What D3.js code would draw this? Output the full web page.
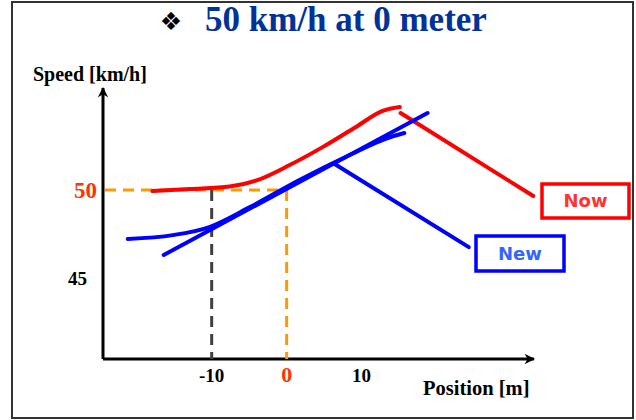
<!DOCTYPE html>
<html>
<head>
<meta charset="utf-8">
<script src="https://cdn.jsdelivr.net/npm/d3@7"></script>
<style>
  body { margin: 0; background: #fff; }
</style>
</head>
<body>
<div id="vis-container"></div>
<script>
// Data (position in m, speed in km/h)
const nowCurve = [[-17.9, 49.94], [-12.9, 50.06], [-7.6, 50.2], [-4.0, 50.55], [0.4, 51.42],
  [4.8, 52.44], [9.3, 53.6], [12.8, 54.5], [15.1, 54.72]];
const nowDrop = [[15.2, 54.38], [32.9, 49.66]];
const newCurve = [[-21.2, 47.22], [-15.2, 47.44], [-10.3, 47.90], [-4.9, 49.03], [1.7, 50.57],
  [8.4, 51.99], [13.1, 52.90], [15.7, 53.24]];
const newLine = [[-16.4, 46.31], [18.8, 54.38]];
const newDrop = [[6.4, 51.48], [24.3, 46.76]];
const xTicks = [-10, 0, 10];
const yTicks = [45, 50];
const refPos = 0, refSpeed = 50, markPos = -10;

const width = 636;
const height = 420;

const svg = d3.select("#vis-container")
  .append("svg")
  .attr("width", width)
  .attr("height", height)
  .attr("viewBox", [0, 0, width, height]);

// outer frame
svg.append("rect")
  .attr("x", 12).attr("y", 2)
  .attr("width", 621).attr("height", 416)
  .attr("fill", "none")
  .attr("stroke", "#333")
  .attr("stroke-width", 2);

// scales
const xScale = d3.scaleLinear().domain([-24.5, 33]).range([103, 534]);
const yScale = d3.scaleLinear().domain([40.4, 55.8]).range([359, 88]);
const x0 = xScale.domain()[0], y0 = yScale.domain()[0];

// arrow marker
svg.append("defs").append("marker")
  .attr("id", "arrow")
  .attr("viewBox", "0 0 10 10")
  .attr("refX", 9).attr("refY", 5)
  .attr("markerWidth", 4.5).attr("markerHeight", 3.5)
  .attr("markerUnits", "strokeWidth")
  .attr("orient", "auto")
  .append("path")
  .attr("d", "M0,0 L10,5 L0,10 L3,5 Z")
  .attr("fill", "black");

// title
svg.append("text")
  .attr("x", 171).attr("y", 30)
  .attr("text-anchor", "middle")
  .attr("font-family", "DejaVu Sans")
  .attr("font-size", 25)
  .attr("fill", "black")
  .text("\u2756");
svg.append("text")
  .attr("x", 205).attr("y", 31)
  .attr("font-family", "Liberation Serif, serif")
  .attr("font-weight", "bold")
  .attr("font-size", 35)
  .attr("fill", "#003399")
  .text("50 km/h at 0 meter");

// axes
svg.append("line")
  .attr("x1", xScale(x0)).attr("y1", yScale(y0))
  .attr("x2", xScale(x0)).attr("y2", yScale(yScale.domain()[1]))
  .attr("stroke", "black").attr("stroke-width", 3)
  .attr("marker-end", "url(#arrow)");
svg.append("line")
  .attr("x1", xScale(x0)).attr("y1", yScale(y0))
  .attr("x2", xScale(xScale.domain()[1])).attr("y2", yScale(y0))
  .attr("stroke", "black").attr("stroke-width", 3)
  .attr("marker-end", "url(#arrow)");

svg.append("text")
  .attr("x", 33).attr("y", 81)
  .attr("font-family", "Liberation Serif, serif")
  .attr("font-weight", "bold")
  .attr("font-size", 20)
  .text("Speed [km/h]");
svg.append("text")
  .attr("x", 423).attr("y", 395)
  .attr("font-family", "Liberation Serif, serif")
  .attr("font-weight", "bold")
  .attr("font-size", 20.5)
  .text("Position [m]");

// tick labels
svg.selectAll(".xtick")
  .data(xTicks)
  .enter()
  .append("text")
  .attr("class", "xtick")
  .attr("x", (d) => xScale(d))
  .attr("y", 382)
  .attr("text-anchor", "middle")
  .attr("font-family", "Liberation Serif, serif")
  .attr("font-weight", "bold")
  .attr("font-size", d => d === refPos ? 22 : 19)
  .attr("fill", d => d === refPos ? "#ff3300" : "black")
  .text(d => d);

svg.selectAll(".ytick")
  .data(yTicks)
  .enter()
  .append("text")
  .attr("class", "ytick")
  .attr("x", d => d === refSpeed ? 97 : 87)
  .attr("y", (d) => yScale(d))
  .attr("dy", "0.35em")
  .attr("text-anchor", "end")
  .attr("font-family", "Liberation Serif, serif")
  .attr("font-weight", "bold")
  .attr("font-size", d => d === refSpeed ? 23 : 19)
  .attr("fill", d => d === refSpeed ? "#ff3300" : "black")
  .text(d => d);

// dashed guides
svg.append("line")
  .attr("x1", xScale(markPos)).attr("y1", yScale(refSpeed))
  .attr("x2", xScale(markPos)).attr("y2", yScale(y0))
  .attr("stroke", "#404040").attr("stroke-width", 3)
  .attr("stroke-dasharray", "11,7");
svg.append("line")
  .attr("x1", xScale(x0) + 2).attr("y1", yScale(refSpeed))
  .attr("x2", xScale(refPos)).attr("y2", yScale(refSpeed))
  .attr("stroke", "#ff9900").attr("stroke-width", 3)
  .attr("stroke-dasharray", "11,7");
svg.append("line")
  .attr("x1", xScale(refPos)).attr("y1", yScale(refSpeed))
  .attr("x2", xScale(refPos)).attr("y2", yScale(y0))
  .attr("stroke", "#ff9900").attr("stroke-width", 3)
  .attr("stroke-dasharray", "11,7");

// curves
const line = d3.line()
  .x(d => xScale(d[0]))
  .y(d => yScale(d[1]))
  .curve(d3.curveMonotoneX);

const series = [
  { pts: nowCurve, color: "#ff0000" },
  { pts: nowDrop, color: "#ff0000" },
  { pts: newCurve, color: "#0000ff" },
  { pts: newLine, color: "#0000ff" },
  { pts: newDrop, color: "#0000ff" }
];

svg.selectAll(".curve")
  .data(series)
  .enter()
  .append("path")
  .attr("class", "curve")
  .attr("d", d => line(d.pts))
  .attr("fill", "none")
  .attr("stroke", d => d.color)
  .attr("stroke-width", 4)
  .attr("stroke-linecap", "round");

// labels in boxes
const boxes = [
  { text: "Now", x: 542, y: 184, w: 87, h: 34, stroke: "#ff0000", fill: "#ff3333" },
  { text: "New", x: 476, y: 236, w: 88, h: 35, stroke: "#0000ff", fill: "#3366ff" }
];
const box = svg.selectAll(".box")
  .data(boxes)
  .enter()
  .append("g")
  .attr("class", "box");
box.append("rect")
  .attr("x", d => d.x).attr("y", d => d.y)
  .attr("width", d => d.w).attr("height", d => d.h)
  .attr("fill", "white")
  .attr("stroke", d => d.stroke)
  .attr("stroke-width", 3.5);
box.append("text")
  .attr("x", d => d.x + d.w / 2)
  .attr("y", d => d.y + d.h / 2)
  .attr("dy", "0.36em")
  .attr("text-anchor", "middle")
  .attr("font-family", "DejaVu Sans")
  .attr("font-weight", "bold")
  .attr("font-size", 18)
  .attr("fill", d => d.fill)
  .text(d => d.text);
</script>
</body>
</html>
